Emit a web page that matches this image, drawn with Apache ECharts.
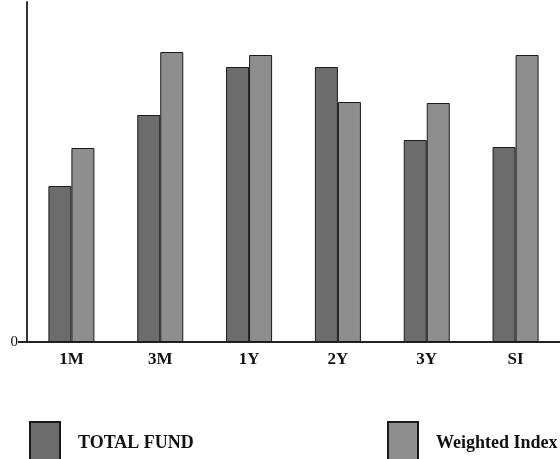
<!DOCTYPE html>
<html>
<head>
<meta charset="utf-8">
<script src="https://cdn.jsdelivr.net/npm/echarts@6/dist/echarts.min.js"></script>
<style>
  html, body { margin: 0; padding: 0; background: #fff; }
  #chart { width: 560px; height: 459px; }
</style>
</head>
<body>
<div id="chart"></div>
<script>
// Return periods and the two compared series
const periods = ['1M', '3M', '1Y', '2Y', '3Y', 'SI'];
const totalFund = [15.6, 22.7, 27.5, 27.5, 20.2, 19.5];
const weightedIndex = [19.4, 29.0, 28.7, 24.0, 23.9, 28.7];
const seriesNames = ['TOTAL FUND', 'Weighted Index'];

const serif = '"Liberation Serif", "DejaVu Serif", serif';
const fundColor = '#6c6c6c';
const indexColor = '#8e8e8e';

const chart = echarts.init(document.getElementById('chart'));

const legendText = { fontFamily: serif, fontWeight: 'bold', fontSize: 18, color: '#111' };

chart.setOption({
  animation: false,
  backgroundColor: '#fff',
  grid: { left: 27, width: 536, top: 2, bottom: 117 },
  xAxis: {
    type: 'category',
    data: periods,
    axisLine: { lineStyle: { color: '#222', width: 2 } },
    axisTick: { show: false },
    axisLabel: { fontFamily: serif, fontWeight: 'bold', fontSize: 17, color: '#111', margin: 9 }
  },
  yAxis: {
    type: 'value',
    min: 0,
    max: 34,
    interval: 34,
    splitLine: { show: false },
    axisLine: { show: true, lineStyle: { color: '#333', width: 2 } },
    axisTick: { show: true, length: 9, customValues: [0], lineStyle: { color: '#222', width: 2 } },
    axisLabel: {
      customValues: [0],
      margin: 9,
      fontFamily: serif, fontSize: 15, color: '#111',
      formatter: v => (v === 0 ? '0' : '')
    }
  },
  legend: [
    {
      data: [seriesNames[0]],
      left: 24, top: 416,
      itemWidth: 30, itemHeight: 42,
      icon: 'rect',
      textStyle: Object.assign({ padding: [0, 0, 0, 13] }, legendText)
    },
    {
      data: [seriesNames[1]],
      left: 382, top: 416,
      itemWidth: 30, itemHeight: 42,
      icon: 'rect',
      textStyle: Object.assign({ padding: [0, 0, 0, 13] }, legendText)
    }
  ],
  series: [
    {
      name: seriesNames[0],
      type: 'bar',
      data: totalFund,
      barWidth: 23,
      barGap: '0%',
      itemStyle: { color: fundColor, borderColor: '#1a1a1a', borderWidth: 1 }
    },
    {
      name: seriesNames[1],
      type: 'bar',
      data: weightedIndex,
      barWidth: 23,
      barGap: '0%',
      itemStyle: { color: indexColor, borderColor: '#1a1a1a', borderWidth: 1 }
    }
  ]
});
</script>
</body>
</html>
